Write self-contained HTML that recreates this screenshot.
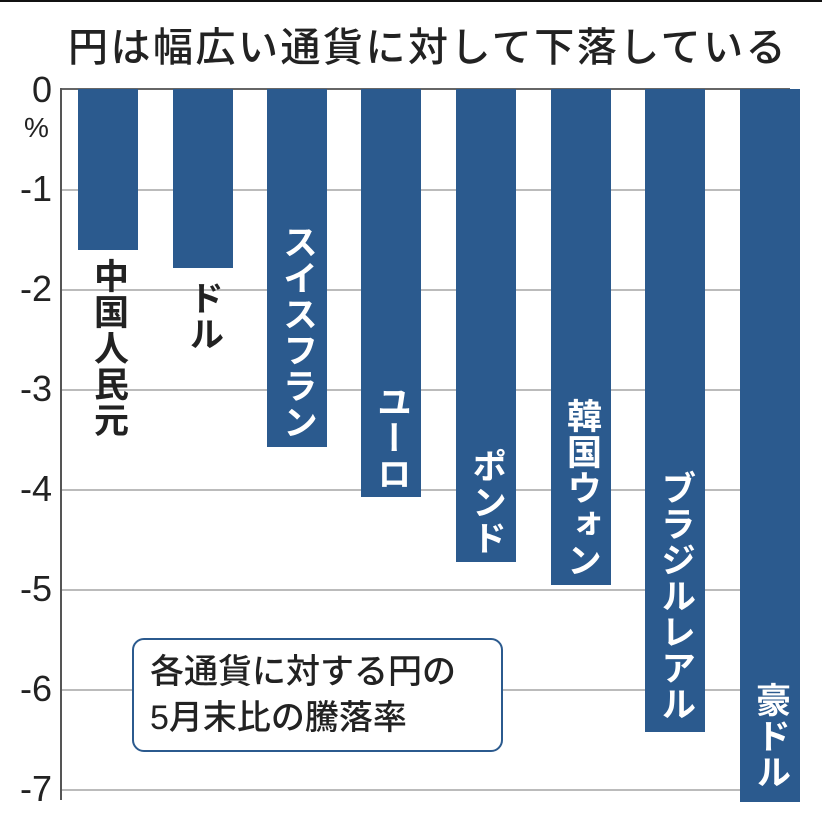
<!DOCTYPE html>
<html><head><meta charset="utf-8"><style>
body{margin:0;width:822px;height:828px;background:#fff;overflow:hidden;position:relative;font-family:"Liberation Sans","Noto Sans CJK JP",sans-serif;}
.a{position:absolute}
.bar{position:absolute;background:#2b5a8e;width:60px;top:89px}
.grid{position:absolute;left:61px;width:729px;height:2px;background:#bbb}
.yl{position:absolute;right:770px;font-size:36px;color:#222;line-height:36px}
.lab{position:absolute;writing-mode:vertical-rl;font-size:35px;line-height:60px;width:60px;font-weight:bold;letter-spacing:1px}
</style></head><body>
<div class="a" style="left:0;top:0;width:822px;height:2px;background:#111"></div>
<div class="a" style="left:68px;top:15px;font-size:40px;color:#222;white-space:nowrap;letter-spacing:2.5px;font-weight:500">円は幅広い通貨に対して下落している</div>
<div class="grid" style="top:189px"></div>
<div class="grid" style="top:289px"></div>
<div class="grid" style="top:389px"></div>
<div class="grid" style="top:489px"></div>
<div class="grid" style="top:589px"></div>
<div class="grid" style="top:689px"></div>
<div class="grid" style="top:789px"></div>
<div class="a" style="left:61px;top:88px;width:729px;height:2px;background:#666"></div>
<div class="a" style="left:60px;top:88px;width:2px;height:712px;background:#555"></div>
<div class="yl" style="top:72px">0</div>
<div class="a" style="left:24px;top:112px;font-size:28px;color:#222">%</div>
<div class="yl" style="top:171px">-1</div>
<div class="yl" style="top:271px">-2</div>
<div class="yl" style="top:371px">-3</div>
<div class="yl" style="top:471px">-4</div>
<div class="yl" style="top:571px">-5</div>
<div class="yl" style="top:671px">-6</div>
<div class="yl" style="top:771px">-7</div>
<div class="bar" style="left:78px;height:161px"></div>
<div class="bar" style="left:173px;height:179px"></div>
<div class="bar" style="left:267px;height:358px"></div>
<div class="bar" style="left:361px;height:408px"></div>
<div class="bar" style="left:456px;height:473px"></div>
<div class="bar" style="left:551px;height:496px"></div>
<div class="bar" style="left:645px;height:643px"></div>
<div class="bar" style="left:740px;height:713px"></div>
<div class="lab" style="left:78px;top:258px;color:#222">中国人民元</div>
<div class="lab" style="left:173px;top:280px;color:#222">ドル</div>
<div class="lab" style="left:267px;top:224px;color:#fff">スイスフラン</div>
<div class="lab" style="left:361px;top:384px;color:#fff">ユーロ</div>
<div class="lab" style="left:456px;top:448px;color:#fff">ポンド</div>
<div class="lab" style="left:551px;top:398px;color:#fff">韓国ウォン</div>
<div class="lab" style="left:645px;top:470px;color:#fff">ブラジルレアル</div>
<div class="lab" style="left:740px;top:682px;color:#fff">豪ドル</div>
<div class="a" style="left:132px;top:638px;width:367px;height:110px;border:2px solid #2b5a8e;border-radius:12px;background:#fff"></div>
<div class="a" style="left:150px;top:649px;font-size:34px;line-height:46px;color:#222;white-space:nowrap;font-weight:500">各通貨に対する円の<br>5月末比の騰落率</div>
</body></html>
